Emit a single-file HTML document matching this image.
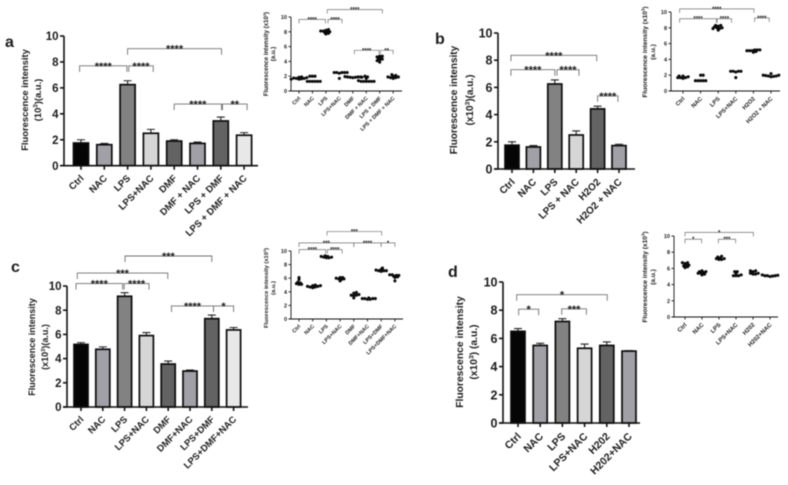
<!DOCTYPE html>
<html lang="en">
<head>
<meta charset="utf-8">
<title>Fluorescence intensity panels</title>
<style>
html,body{margin:0;padding:0;background:#fff;width:788px;height:485px;overflow:hidden}
svg{display:block;filter:blur(.45px)}
text{font-family:"Liberation Sans",Arial,sans-serif;font-weight:bold;fill:#1c1c1c}
</style>
</head>
<body>
<svg id="figure" width="788" height="485" viewBox="0 0 788 485" xmlns="http://www.w3.org/2000/svg">
  <text x="5" y="47" font-size="16">a</text>
  <text x="435" y="44" font-size="16">b</text>
  <text x="11" y="272" font-size="16">c</text>
  <text x="448" y="277" font-size="16">d</text>
</svg>
<script>
// ---------- shared ----------
const yTicks = [0, 2, 4, 6, 8, 10];

// ---------- panel a ----------
const aCategories = ['Ctrl', 'NAC', 'LPS', 'LPS+NAC', 'DMF', 'DMF + NAC', 'LPS + DMF', 'LPS + DMF + NAC'];
const aMeans = [1.75, 1.62, 6.25, 2.5, 1.9, 1.72, 3.45, 2.35];
const aErrors = [0.25, 0.1, 0.3, 0.3, 0.1, 0.1, 0.3, 0.2];
const aCompareFrom = [-0.06, 2.05, 2.0, 4.0, 6.07];
const aCompareTo = [1.97, 3.1, 6.03, 6.03, 7.13];
const aCompareLevel = [7.7, 7.7, 9.02, 4.75, 4.75];
const aCompareStars = ['****', '****', '****', '****', '**'];

const aInsetCategories = ['Ctrl', 'NAC', 'LPS', 'LPS+NAC', 'DMF', 'DMF + NAC', 'LPS + DMF', 'LPS + DMF + NAC'];
const aInsetPoints = [
  [1.6, 1.65, 1.7, 1.7, 1.75, 1.8, 1.85, 1.9, 1.6],
  [1.3, 1.3, 1.3, 1.3, 1.3, 1.3, 2.0, 2.0, 2.0],
  [7.7, 7.8, 7.9, 8, 8, 8.1, 8.2, 8.3, 8.1],
  [1.7, 2.4, 2.5, 2.5, 2.5, 2.5, 2.5],
  [1.8, 1.85, 1.85, 1.9, 1.9, 1.9, 1.95, 1.85],
  [1.3, 1.3, 1.3, 1.3, 1.3, 1.3, 1.4, 1.7, 1.9, 2.0],
  [3.9, 4.2, 4.3, 4.4, 4.5, 4.6, 4.7, 4.7, 4.1],
  [1.7, 1.8, 1.8, 1.9, 2.0, 2.1, 2.2, 1.9]
];
const aInsetCompareFrom = [0, 2.16, 2.1, 4.12, 6.05];
const aInsetCompareTo = [1.96, 3.2, 6.2, 5.95, 7.0];
const aInsetCompareLevel = [9.68, 9.68, 11, 5.5, 5.5];
const aInsetCompareStars = ['****', '****', '****', '****', '**'];

// ---------- panel b ----------
const bCategories = ['Ctrl', 'NAC', 'LPS', 'LPS + NAC', 'H2O2', 'H2O2 + NAC'];
const bMeans = [1.75, 1.62, 6.25, 2.5, 4.42, 1.72];
const bErrors = [0.25, 0.1, 0.3, 0.3, 0.2, 0.1];
const bCompareFrom = [-0.05, 2.1, -0.05, 4.0];
const bCompareTo = [2.0, 3.13, 3.96, 4.95];
const bCompareLevel = [7.3, 7.3, 8.36, 5.38];
const bCompareStars = ['****', '****', '****', '****'];

const bInsetCategories = ['Ctrl', 'NAC', 'LPS', 'LPS+NAC', 'H2O2', 'H2O2 + NAC'];
const bInsetPoints = [
  [1.6, 1.7, 1.7, 1.8, 1.9, 1.9, 1.7],
  [1.3, 1.3, 1.3, 1.3, 1.3, 2, 2],
  [7.7, 7.9, 8, 8, 8.1, 8.2, 8.3, 8.3, 7.9],
  [1.7, 2.4, 2.5, 2.5, 2.5, 2.5],
  [4.9, 5, 5.1, 5.1, 5.2, 5.2, 5.2, 5.1],
  [1.8, 1.85, 1.9, 1.9, 1.95, 2, 2, 2.2]
];
const bInsetCompareFrom = [-0.19, 1.94, -0.19, 4.07];
const bInsetCompareTo = [1.9, 2.76, 4.03, 4.9];
const bInsetCompareLevel = [9.15, 9.15, 10.4, 9.24];
const bInsetCompareStars = ['****', '****', '****', '****'];

// ---------- panel c ----------
const cCategories = ['Ctrl', 'NAC', 'LPS', 'LPS+NAC', 'DMF', 'DMF+NAC', 'LPS+DMF', 'LPS+DMF+NAC'];
const cMeans = [5.17, 4.77, 9.15, 5.9, 3.55, 2.97, 7.3, 6.37];
const cErrors = [0.15, 0.2, 0.3, 0.25, 0.25, 0.08, 0.3, 0.2];
const cCompareFrom = [-0.23, 1.98, -0.17, 2.02, 4.15, 6.08];
const cCompareTo = [1.91, 3.12, 3.98, 6.0, 6.08, 7.0];
const cCompareLevel = [10.2, 10.2, 11.07, 12.48, 8.35, 8.35];
const cCompareStars = ['****', '****', '***', '***', '****', '*'];

const cInsetCategories = ['Ctrl', 'NAC', 'LPS', 'LPS+NAC', 'DMF', 'DMF+NAC', 'LPS+DMF', 'LPS+DMF+NAC'];
const cInsetPoints = [
  [5.1, 5.1, 5.2, 5.3, 5.4, 5.8, 6.1],
  [4.6, 4.7, 4.7, 4.8, 4.8, 4.9, 4.9, 5],
  [9, 9, 9.1, 9.1, 9.2, 9.2, 9.3],
  [5.6, 5.8, 5.9, 5.9, 6, 6.1, 6.1],
  [3.1, 3.4, 3.5, 3.5, 3.6, 3.8, 3.9],
  [2.9, 2.9, 3, 3, 3, 3, 3.1],
  [7, 7.1, 7.1, 7.1, 7.2, 7.3, 7.5],
  [5.6, 6.1, 6.2, 6.3, 6.4, 6.4, 6.5, 6.5]
];
const cInsetCompareFrom = [0, 2.07, 0, 4, 6, 2.05];
const cInsetCompareTo = [1.95, 3.15, 4, 6, 7, 6.03];
const cInsetCompareLevel = [10.2, 10.2, 11.2, 11.2, 11.2, 12.86];
const cInsetCompareStars = ['****', '****', '***', '****', '*', '***'];

// ---------- panel d ----------
const dCategories = ['Ctrl', 'NAC', 'LPS', 'LPS+NAC', 'H202', 'H202+NAC'];
const dMeans = [6.5, 5.5, 7.2, 5.3, 5.5, 5.1];
const dErrors = [0.2, 0.15, 0.2, 0.3, 0.25, 0.03];
const dCompareFrom = [-0.06, 0.03, 1.97];
const dCompareTo = [4.02, 0.93, 3.08];
const dCompareLevel = [9.1, 8.07, 8.1];
const dCompareStars = ['*', '*', '***'];

const dInsetCategories = ['Ctrl', 'NAC', 'LPS', 'LPS+NAC', 'H202', 'H202+NAC'];
const dInsetPoints = [
  [6.1, 6.2, 6.3, 6.4, 6.4, 6.6, 6.7, 6.7],
  [5.2, 5.3, 5.4, 5.4, 5.5, 5.6, 5.6, 5.7],
  [7.1, 7.1, 7.2, 7.2, 7.3, 7.4, 7.5],
  [5.1, 5.1, 5.1, 5.2, 5.4, 5.6, 5.6],
  [5.3, 5.3, 5.4, 5.4, 5.6, 5.7, 5.7],
  [5, 5.05, 5.1, 5.1, 5.1, 5.15, 5.2]
];
const dInsetCompareFrom = [0, 0, 1.96];
const dInsetCompareTo = [4.02, 0.98, 2.98];
const dInsetCompareLevel = [10.45, 9.6, 9.6];
const dInsetCompareStars = ['*', '*', '***'];

// ---------- drawing ----------
const NS = 'http://www.w3.org/2000/svg';
const root = document.getElementById('figure');

function mk(tag, attrs, parent, text) {
  const el = document.createElementNS(NS, tag);
  for (const k in attrs) el.setAttribute(k, attrs[k]);
  if (text !== undefined) el.textContent = text;
  parent.appendChild(el);
  return el;
}

function drawAxes(g, name, f, cats) {
  const xAt = i => f.x0 + f.step * i;
  const yAt = v => f.y0 - (f.y0 - f.y10) * v / 10;

  const yAxis = mk('line', { x1: f.ax, x2: f.ax, y1: yAt(10), y2: yAt(0), stroke: '#111', 'stroke-width': f.axisW }, g);
  
  
  const xAxis = mk('line', { x1: f.ax - f.tick, x2: f.xEnd, y1: yAt(0), y2: yAt(0), stroke: '#111', 'stroke-width': f.axisW }, g);
  
  

  yTicks.forEach(v => {
    const tk = mk('line', { x1: f.ax - f.tick, x2: f.ax, y1: yAt(v), y2: yAt(v), stroke: '#111', 'stroke-width': f.axisW }, g);
    
    
    const lb = mk('text', { x: f.ax - f.tick - 1.5, y: yAt(v) + f.yFont * 0.36, 'text-anchor': 'end', 'font-size': f.yFont }, g, String(v));
    
    
  });

  cats.forEach((c, i) => {
    const tk = mk('line', { x1: xAt(i), x2: xAt(i), y1: yAt(0), y2: yAt(0) + f.tick, stroke: '#111', 'stroke-width': f.axisW }, g);
    
    
    const lx = xAt(i) + f.xFont * 0.35;
    const ly = yAt(0) + f.tick + f.xFont * 0.95;
    const lb = mk('text', { x: lx, y: ly, 'text-anchor': 'end', 'font-size': f.xFont, transform: 'rotate(-45 ' + lx + ' ' + ly + ')' }, g, c);
    
    
  });

  return { xAt, yAt };
}

function drawTitle(g, name, f, prefix, suffix) {
  const t1 = mk('text', { x: f.t1x, y: f.tcy, 'text-anchor': 'middle', 'font-size': f.tFont, transform: 'rotate(-90 ' + f.t1x + ' ' + f.tcy + ')' }, g, 'Fluorescence intensity' + (f.inline ? ' ' + prefix : ''));
  if (f.inline) {
    const sup = mk('tspan', { dy: -f.tFont * 0.35, 'font-size': f.tFont * 0.65 }, t1, '3');
    const rest = mk('tspan', { dy: f.tFont * 0.35 }, t1, ')');
    
    
    
    
  }
  
  

  const t2 = mk('text', { x: f.t2x, y: f.tcy, 'text-anchor': 'middle', 'font-size': f.tFont, transform: 'rotate(-90 ' + f.t2x + ' ' + f.tcy + ')' }, g, f.inline ? '(a.u.)' : prefix);
  if (!f.inline) {
    const sup = mk('tspan', { dy: -f.tFont * 0.35, 'font-size': f.tFont * 0.65 }, t2, '3');
    const rest = mk('tspan', { dy: f.tFont * 0.35 }, t2, suffix);
    
    
    
    
  }
  
  
}

function drawCompare(g, name, f, ax, from, to, level, stars) {
  from.forEach((a, i) => {
    const x1 = ax.xAt(a), x2 = ax.xAt(to[i]), y = ax.yAt(level[i]), d = f.drop;
    const p = mk('path', { d: 'M' + x1 + ' ' + (y + d) + 'V' + y + 'H' + x2 + 'V' + (y + d), fill: 'none', stroke: '#6f6f6f', 'stroke-width': f.bracketW }, g);
    
    
    const s = mk('text', { x: (x1 + x2) / 2, y: y + f.starDy, 'text-anchor': 'middle', 'font-size': f.starFont }, g, stars[i]);
    
    
  });
}

function drawBarPanel(name, f, cats, means, errs, from, to, level, stars, fills, prefix, suffix) {
  const g = mk('g', {}, root);
  
  
  const ax = { xAt: i => f.x0 + f.step * i, yAt: v => f.y0 - (f.y0 - f.y10) * v / 10 };
  means.forEach((m, i) => {
    const cx = ax.xAt(i), top = ax.yAt(m + errs[i]);
    const e = mk('path', { d: 'M' + cx + ' ' + ax.yAt(m) + 'V' + top + 'M' + (cx - f.cap) + ' ' + top + 'H' + (cx + f.cap), fill: 'none', stroke: '#222', 'stroke-width': 1.1 }, g);
    
    
    const b = mk('rect', { x: cx - f.barW / 2, y: ax.yAt(m), width: f.barW, height: ax.yAt(0) - ax.yAt(m), fill: fills[i], stroke: '#0c0c0c', 'stroke-width': 1.7 }, g);
    
    
  });
  drawAxes(g, name, f, cats);
  drawTitle(g, name, f, prefix, suffix);
  drawCompare(g, name, f, ax, from, to, level, stars);
}

function drawDotPanel(name, f, cats, points, from, to, level, stars) {
  const g = mk('g', {}, root);
  
  
  const ax = drawAxes(g, name, f, cats);
  const r = 1.55;
  points.forEach((vals, i) => {
    const placed = [];
    vals.forEach((v, j) => {
      const py = ax.yAt(v);
      let dx = 0;
      for (let k = 0; k < 14; k++) {
        dx = (k % 2 ? 1 : -1) * Math.ceil(k / 2) * 1.3;
        if (!placed.some(q => Math.hypot(q.dx - dx, q.py - py) < 1.8)) break;
      }
      placed.push({ dx, py });
      const c = mk('circle', { cx: ax.xAt(i) + dx, cy: py, r: r, fill: '#0a0a0a' }, g);
      
      
    });
  });
  drawTitle(g, name, f, '(x10', ')');
  drawCompare(g, name, f, ax, from, to, level, stars);
}

const main = { barW: 14, cap: 4, axisW: 1.6, tick: 4, drop: 6, bracketW: 0.9, starDy: 4, starFont: 11 };
const inset = { axisW: 0.9, tick: 2.5, yFont: 5.5, drop: 4, bracketW: 0.7, starDy: 2, starFont: 6, inline: true };

const fills8 = ['#050505', '#a0a0a6', '#828282', '#d6d6d6', '#636363', '#a0a0a6', '#636363', '#e8e8e8'];
const fills6 = ['#050505', '#a0a0a6', '#828282', '#d6d6d6', '#636363', '#a0a0a6'];

drawBarPanel('panel-a-bar-chart', Object.assign({}, main, { ax: 64, x0: 81, step: 23.3, y0: 165.7, y10: 36, xEnd: 258, barW: 15, yFont: 11.5, xFont: 9.6, tFont: 9.4, t1x: 28, t2x: 41, tcy: 100 }),
  aCategories, aMeans, aErrors, aCompareFrom, aCompareTo, aCompareLevel, aCompareStars, fills8, '(10', ')(a.u.)');
drawBarPanel('panel-b-bar-chart', Object.assign({}, main, { ax: 498, x0: 512, step: 21.4, y0: 169, y10: 33, xEnd: 635, yFont: 12.5, xFont: 10, tFont: 10, t1x: 457, t2x: 473, tcy: 100 }),
  bCategories, bMeans, bErrors, bCompareFrom, bCompareTo, bCompareLevel, bCompareStars, fills6, '(x10', ')(a.u.)');
drawBarPanel('panel-c-bar-chart', Object.assign({}, main, { ax: 67, x0: 81, step: 21.8, y0: 407, y10: 286, xEnd: 248, yFont: 11.5, xFont: 9.4, tFont: 9, t1x: 35, t2x: 48, tcy: 347 }),
  cCategories, cMeans, cErrors, cCompareFrom, cCompareTo, cCompareLevel, cCompareStars, fills8, '(x10', ')(a.u.)');
drawBarPanel('panel-d-bar-chart', Object.assign({}, main, { ax: 503, x0: 518, step: 22.2, y0: 423, y10: 282, xEnd: 640, yFont: 12.5, xFont: 10.5, tFont: 10.3, t1x: 463, t2x: 477, tcy: 352 }),
  dCategories, dMeans, dErrors, dCompareFrom, dCompareTo, dCompareLevel, dCompareStars, fills6, '(x10', ') (a.u.)');

drawDotPanel('panel-a-dot-plot', Object.assign({}, inset, { ax: 291, x0: 299, step: 13.45, y0: 91, y10: 17, xEnd: 402, xFont: 5.4, tFont: 6.1, t1x: 268, t2x: 275, tcy: 54 }),
  aInsetCategories, aInsetPoints, aInsetCompareFrom, aInsetCompareTo, aInsetCompareLevel, aInsetCompareStars);
drawDotPanel('panel-b-dot-plot', Object.assign({}, inset, { ax: 671, x0: 683, step: 17.6, y0: 91, y10: 12, xEnd: 780, xFont: 5.9, tFont: 6.6, t1x: 647, t2x: 655, tcy: 52 }),
  bInsetCategories, bInsetPoints, bInsetCompareFrom, bInsetCompareTo, bInsetCompareLevel, bInsetCompareStars);
drawDotPanel('panel-c-dot-plot', Object.assign({}, inset, { ax: 291, x0: 299, step: 13.7, y0: 319, y10: 251, xEnd: 403, xFont: 5.4, tFont: 5.8, t1x: 268, t2x: 275, tcy: 288 }),
  cInsetCategories, cInsetPoints, cInsetCompareFrom, cInsetCompareTo, cInsetCompareLevel, cInsetCompareStars);
drawDotPanel('panel-d-dot-plot', Object.assign({}, inset, { ax: 674, x0: 685, step: 17, y0: 317, y10: 236, xEnd: 778, xFont: 6, tFont: 6.6, t1x: 647, t2x: 655, tcy: 277 }),
  dInsetCategories, dInsetPoints, dInsetCompareFrom, dInsetCompareTo, dInsetCompareLevel, dInsetCompareStars);
</script>
</body>
</html>
